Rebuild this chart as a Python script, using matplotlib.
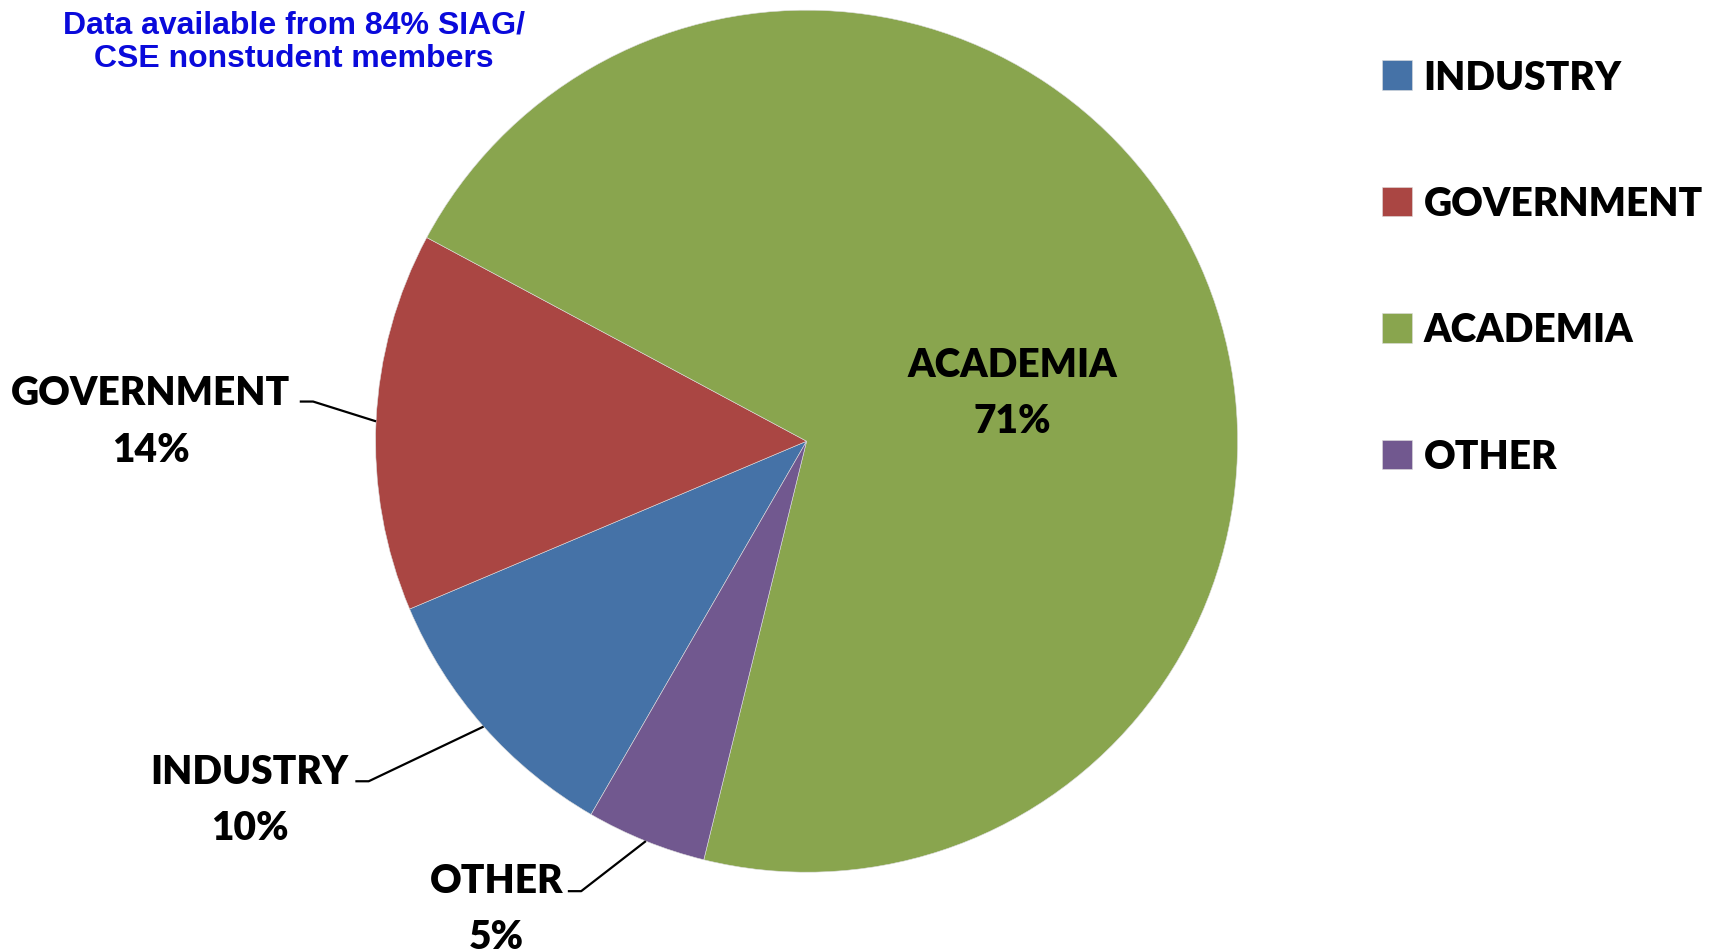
import numpy as np
import matplotlib
matplotlib.use('Agg')
import matplotlib.pyplot as plt

# data
categories = ['INDUSTRY', 'GOVERNMENT', 'ACADEMIA', 'OTHER']
shares = [10.3, 14.2, 71.0, 4.5]
colors = ['#4572A7', '#AA4643', '#89A54E', '#71588F']

# label anchor (centre x, baseline of the percent line) in pie-radius units
label_pos = [(-1.292, -0.923), (-1.522, -0.045), (0.478, 0.021), (-0.719, -1.176)]
# start of the horizontal stub of each leader line (None = label inside slice)
elbow_pos = [(-1.047, -0.789), (-1.176, 0.092), None, (-0.554, -1.044)]
elbow_len = 0.031

W, H = 1716, 953
cx, cy, r = 806.6, 442.2, 431.0

fig = plt.figure(figsize=(W / 100, H / 100), dpi=100)
ax = fig.add_axes([0, 0, 1, 1])

wedges, _ = ax.pie(shares, colors=colors, startangle=240, counterclock=False,
                   radius=1.0, center=(0, 0), frame=True,
                   wedgeprops=dict(edgecolor='#dddddd', linewidth=0.4))
ax.set_xlim(-cx / r, (W - cx) / r)
ax.set_ylim(-(H - cy) / r, cy / r)
ax.set_aspect('auto')
ax.axis('off')

font = 'Lato'
weight = 800
total = sum(shares)
for w, name, val, lp, el in zip(wedges, categories, shares, label_pos, elbow_pos):
    # round half up, like the spreadsheet does
    pct = '%d%%' % int(val / total * 100 + 0.5)
    ax.text(lp[0], lp[1], name + '\n' + pct, ha='center', va='baseline',
            multialignment='center', fontsize=28, fontweight=weight,
            family=font, linespacing=1.64)
    if el is not None:
        mid = np.deg2rad((w.theta1 + w.theta2) / 2)
        ex, ey = np.cos(mid), np.sin(mid)
        ax.plot([el[0], el[0] + elbow_len, ex], [el[1], el[1], ey],
                color='black', lw=1.6, solid_capstyle='butt')

leg = ax.legend(wedges, categories, loc='upper left',
                bbox_to_anchor=(1366 / W, 1 - 44 / H), bbox_transform=fig.transFigure,
                frameon=False, handlelength=0.78, handleheight=0.78,
                handletextpad=0.3, labelspacing=2.30, borderaxespad=0,
                prop=dict(family=font, weight=weight, size=28))

fig.text(294 / W, 1 - 66.7 / H, 'Data available from 84% SIAG/\nCSE nonstudent members',
         ha='center', va='baseline', multialignment='center', color='#0A0ADB',
         fontsize=23, fontweight='bold', family='Liberation Sans', linespacing=1.135)

fig.savefig('out.png', dpi=100)
